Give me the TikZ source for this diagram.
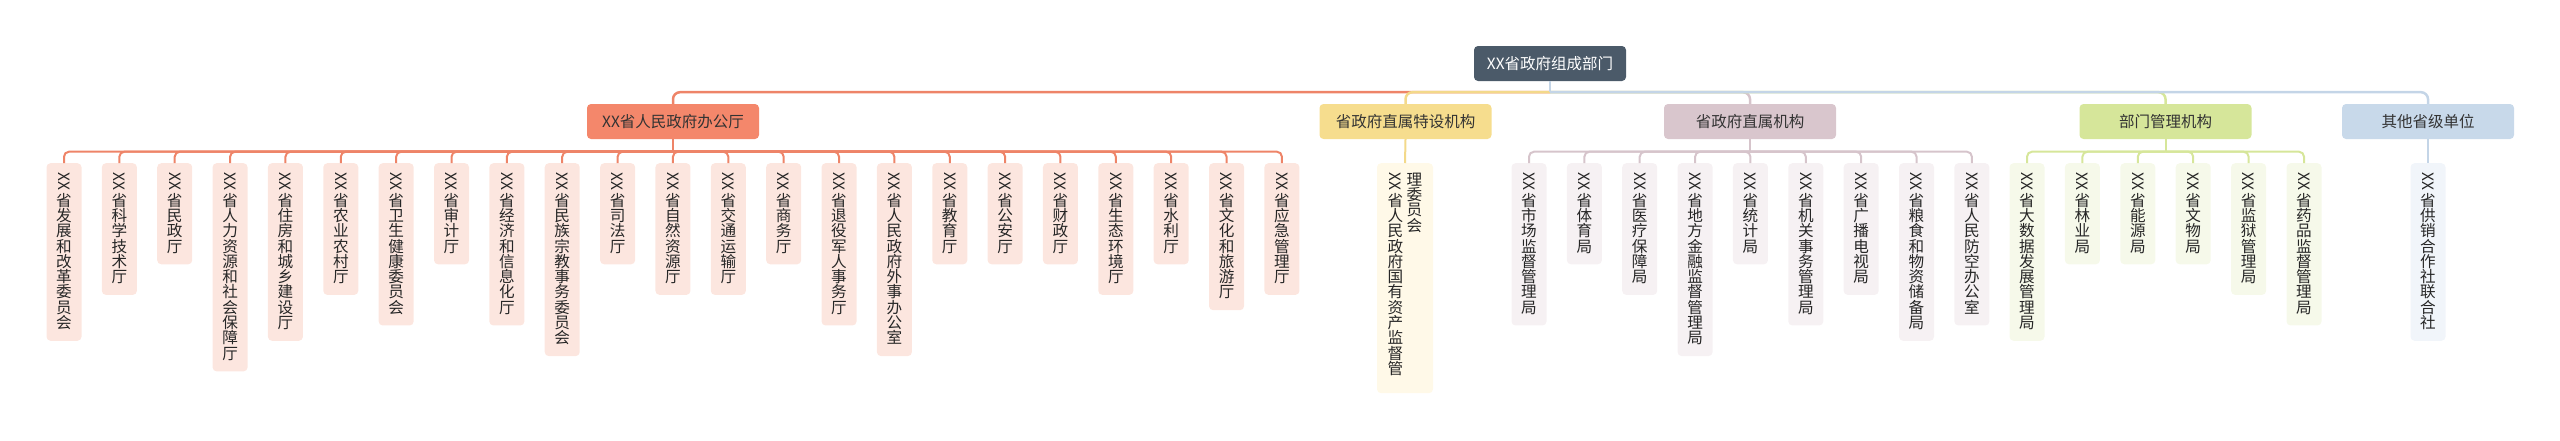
\documentclass[tikz,border=0pt]{standalone}
\usepackage{fontspec}
\setmainfont{Noto Sans CJK SC}
\usepackage{graphicx}
\definecolor{rootF}{HTML}{4B5A69}
\definecolor{oF}{HTML}{F4876B}
\definecolor{oL}{HTML}{EE8468}
\definecolor{oLeaf}{HTML}{FCE6DF}
\definecolor{yF}{HTML}{F6DD8E}
\definecolor{yL}{HTML}{F3D98A}
\definecolor{yLeaf}{HTML}{FFF9E8}
\definecolor{mF}{HTML}{D9C6CD}
\definecolor{mL}{HTML}{D6C4CB}
\definecolor{mLeaf}{HTML}{F6F1F3}
\definecolor{gF}{HTML}{D6E69A}
\definecolor{gL}{HTML}{D6E69A}
\definecolor{gLeaf}{HTML}{F6F9EA}
\definecolor{bF}{HTML}{C8D9EA}
\definecolor{bL}{HTML}{C4D5E7}
\definecolor{bLeaf}{HTML}{F1F5FA}
\definecolor{txt}{HTML}{333333}
\newcommand\vstrut{\vrule width 0pt height 12.6pt depth 2.7pt}
\newcommand\rotXX{\rotatebox{-90}{XX}}
\ExplSyntaxOn
\tl_new:N \l_my_vt_tl
\NewDocumentCommand\vt{m}{
  \tl_set:Nx \l_my_vt_tl {#1}
  \vtop{
    \offinterlineskip
    \hrule height 0pt
    \hbox_to_wd:nn {16pt} { \hss \rotXX \hss }
    \skip_vertical:n {3pt}
    \tl_map_inline:Nn \l_my_vt_tl { \hbox_to_wd:nn {16pt} { \hss \vstrut \smash{##1} \hss } }
  }
}
\NewDocumentCommand\vtp{m}{
  \tl_set:Nx \l_my_vt_tl {#1}
  \vtop{
    \offinterlineskip
    \hrule height 0pt
    \tl_map_inline:Nn \l_my_vt_tl { \hbox_to_wd:nn {16pt} { \hss \vstrut \smash{##1} \hss } }
  }
}
\ExplSyntaxOff
\tikzset{
  rootbox/.style={fill=rootF, text=white, rounded corners=4pt, minimum width=152pt, minimum height=35pt, inner sep=0pt, font=\fontsize{15.5}{18}\selectfont},
  lvone/.style={rounded corners=4pt, minimum width=172pt, minimum height=35pt, inner sep=0pt, text=txt, font=\fontsize{15.5}{18}\selectfont},
  leaf/.style={anchor=north, rounded corners=4pt, minimum width=35pt, inner xsep=0pt, inner ysep=9.5pt, text=black!85, font=\fontsize{15.6}{15.3}\selectfont},
  mainline/.style={line width=2.5pt, rounded corners=7pt},
  leafline/.style={line width=2pt, rounded corners=5pt},
}
\begin{document}
\begin{tikzpicture}[x=1pt,y=-1pt]
\useasboundingbox (0,0) rectangle (2560,440);
% root and level one
\node[rootbox] (r) at (1550,63.5) {XX省政府组成部门};
\node[lvone, fill=oF] (o) at (673,121.5) {XX省人民政府办公厅};
\node[lvone, fill=yF] (y) at (1405.5,121.5) {省政府直属特设机构};
\node[lvone, fill=mF] (m) at (1750,121.5) {省政府直属机构};
\node[lvone, fill=gF] (g) at (2165.5,121.5) {部门管理机构};
\node[lvone, fill=bF] (b) at (2428,121.5) {其他省级单位};
% main connectors
\coordinate (rj) at ([yshift=-11pt]r.south);
\draw[mainline, oL] (rj) -| (o.north);
\draw[mainline, yL] (rj) -| (y.north);
\draw[mainline, mL] (rj) -| (m.north);
\draw[mainline, gL] (rj) -| (g.north);
\draw[mainline, bL] (rj) -| (b.north);
\draw[line width=1.6pt, bL] (r.south) -- (rj);
% orange leaves
\foreach \t [count=\i] in {省发展和改革委员会,省科学技术厅,省民政厅,省人力资源和社会保障厅,省住房和城乡建设厅,省农业农村厅,省卫生健康委员会,省审计厅,省经济和信息化厅,省民族宗教事务委员会,省司法厅,省自然资源厅,省交通运输厅,省商务厅,省退役军人事务厅,省人民政府外事办公室,省教育厅,省公安厅,省财政厅,省生态环境厅,省水利厅,省文化和旅游厅,省应急管理厅}{
  \pgfmathsetmacro\xx{64+(\i-1)*55.36}
  \node[leaf, fill=oLeaf] (o\i) at (\xx,163) {\vt{\t}};
}
\coordinate (oj) at ([yshift=-12.5pt]o.south);
\draw[leafline, oL] (o.south) -- (oj);
\foreach \i in {1,...,23}{ \draw[leafline, oL] (oj) -| (o\i.north); }
% yellow leaf
\node[leaf, fill=yLeaf, minimum width=56pt] (y1) at (1405,163) {\vt{省人民政府国有资产监督管}\hspace{3pt}\vtp{理委员会}\vrule width 0pt height 0pt depth 211pt};
\draw[leafline, yL] (y.south) -- (y1.north);
% mauve leaves
\foreach \t [count=\i] in {省市场监督管理局,省体育局,省医疗保障局,省地方金融监督管理局,省统计局,省机关事务管理局,省广播电视局,省粮食和物资储备局,省人民防空办公室}{
  \pgfmathsetmacro\xx{1529+(\i-1)*55.36}
  \node[leaf, fill=mLeaf] (m\i) at (\xx,163) {\vt{\t}};
}
\coordinate (mj) at ([yshift=-12.5pt]m.south);
\draw[leafline, mL] (m.south) -- (mj);
\foreach \i in {1,...,9}{ \draw[leafline, mL] (mj) -| (m\i.north); }
% green leaves
\foreach \t [count=\i] in {省大数据发展管理局,省林业局,省能源局,省文物局,省监狱管理局,省药品监督管理局}{
  \pgfmathsetmacro\xx{2027+(\i-1)*55.4}
  \node[leaf, fill=gLeaf] (g\i) at (\xx,163) {\vt{\t}};
}
\coordinate (gj) at ([yshift=-12.5pt]g.south);
\draw[leafline, gL] (g.south) -- (gj);
\foreach \i in {1,...,6}{ \draw[leafline, gL] (gj) -| (g\i.north); }
% blue leaf
\node[leaf, fill=bLeaf] (b1) at (2428,163) {\vt{省供销合作社联合社}};
\draw[leafline, bL] (b.south) -- (b1.north);
\end{tikzpicture}
\end{document}
